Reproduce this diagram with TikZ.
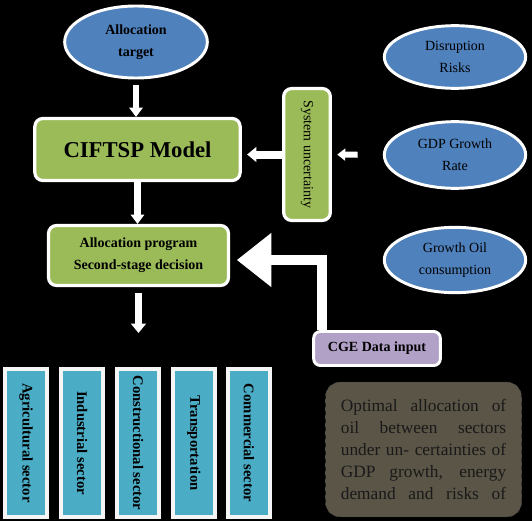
\documentclass[tikz,border=0pt]{standalone}
\usepackage{fontspec}
\setmainfont{Liberation Serif}
\usetikzlibrary{shapes.geometric,arrows.meta}

\definecolor{ovalblue}{RGB}{79,129,189}
\definecolor{modelgreen}{RGB}{155,187,89}
\definecolor{sectorblue}{RGB}{75,172,198}
\definecolor{cgepurple}{RGB}{178,161,199}
\definecolor{noteolive}{RGB}{90,85,71}

\newcommand{\noteline}[1]{\makebox[124pt][s]{#1}}

\begin{document}
\begin{tikzpicture}[x=0.75pt,y=-0.75pt,
    oval/.style={ellipse,draw=white,line width=2.2pt,fill=ovalblue,inner sep=0pt,
        align=center,font=\fontsize{10.5}{16.5}\selectfont},
    greenbox/.style={rectangle,rounded corners=6pt,draw=white,line width=2.4pt,
        fill=modelgreen,align=center,inner sep=0pt},
    sectorbox/.style={rectangle,draw=white!92!gray,line width=3pt,fill=sectorblue,
        inner sep=0pt,minimum width=32pt,minimum height=111pt,
        font=\fontsize{11}{13}\selectfont\bfseries},
    whitearrow/.style={draw=white,line join=miter}]
    \useasboundingbox (0,0) rectangle (532,521);
    \fill[black] (0,0) rectangle (532,521);

    % inputs
    \node[oval,font=\fontsize{10.5}{16.5}\selectfont\bfseries,minimum width=107pt,minimum height=54pt]
        (target) at (136,42) {Allocation\\target};
    \node[oval,minimum width=106pt,minimum height=47pt] (risk) at (455,57) {Disruption\\Risks};
    \node[oval,minimum width=106pt,minimum height=50pt] (gdp) at (455,155) {GDP Growth\\Rate};
    \node[oval,minimum width=106pt,minimum height=49pt] (oil) at (455,260) {Growth Oil\\consumption};

    % model boxes
    \node[greenbox,minimum width=154pt,minimum height=46.5pt,
        font=\fontsize{17}{20}\selectfont\bfseries] (model) at (137.5,149.5) {CIFTSP Model};
    \node[greenbox,minimum width=35pt,minimum height=99pt,
        font=\fontsize{10.5}{13}\selectfont] (sys) at (307,154.5) {\rotatebox{-90}{System uncertainty}};
    \node[greenbox,minimum width=135pt,minimum height=45pt,
        font=\fontsize{10.5}{16.5}\selectfont\bfseries] (alloc) at (138.5,255.5)
        {Allocation program\\Second-stage decision};
    \node[rectangle,rounded corners=5pt,draw=white,line width=2.2pt,fill=cgepurple,inner sep=0pt,
        minimum width=95pt,minimum height=25.5pt,font=\fontsize{10.5}{13}\selectfont\bfseries]
        (cge) at (377,348.5) {CGE Data input};

    % note
    \node[rectangle,rounded corners=11pt,draw=black!70,dashed,fill=noteolive,inner sep=0pt,
        minimum width=147pt,minimum height=101pt,text width=124pt,align=justify,
        text=black!90,font=\fontsize{13}{16.5}\selectfont] (note) at (423.5,449.5)
        {\noteline{Optimal allocation of}\\
         \noteline{oil between sectors}\\
         \noteline{under un- certainties of}\\
         \noteline{GDP growth, energy}\\
         \noteline{demand and risks of}};

    % sectors
    \foreach \i/\x/\name in {1/26/Agricultural sector,2/82/Industrial sector,
        3/138/Constructional sector,4/194/Transportation,5/249/Commercial sector}
        \node[sectorbox] (sec\i) at (\x,443) {\rotatebox{-90}{\name}};

    % arrows
    \coordinate (out) at (138,333);
    \coordinate (bend) at (322,260);
    \draw[whitearrow,line width=5pt,-{Triangle[width=10pt,length=7pt]},shorten <=4.5pt]
        (target.south) -- (target.south |- model.north);
    \draw[whitearrow,line width=5pt,-{Triangle[width=10pt,length=7pt]}]
        (model.south) -- (model.south |- alloc.north);
    \draw[whitearrow,line width=5.5pt,-{Triangle[width=11pt,length=7pt]},shorten <=4.5pt]
        (alloc.south) -- (alloc.south |- out);
    \draw[whitearrow,line width=6pt,-{Triangle[width=11pt,length=7pt]},shorten >=4pt]
        (sys.west) -- (model.east |- sys.west);
    \draw[whitearrow,line width=4.5pt,-{Triangle[width=9pt,length=6pt]},shorten <=19pt,shorten >=4pt]
        (gdp.west) -- (sys.east);
    \draw[whitearrow,line width=7.5pt,-{Triangle[width=39pt,length=26pt]},shorten >=5pt]
        (cge.north -| bend) -- (bend) -- (bend -| alloc.east);
\end{tikzpicture}
\end{document}
